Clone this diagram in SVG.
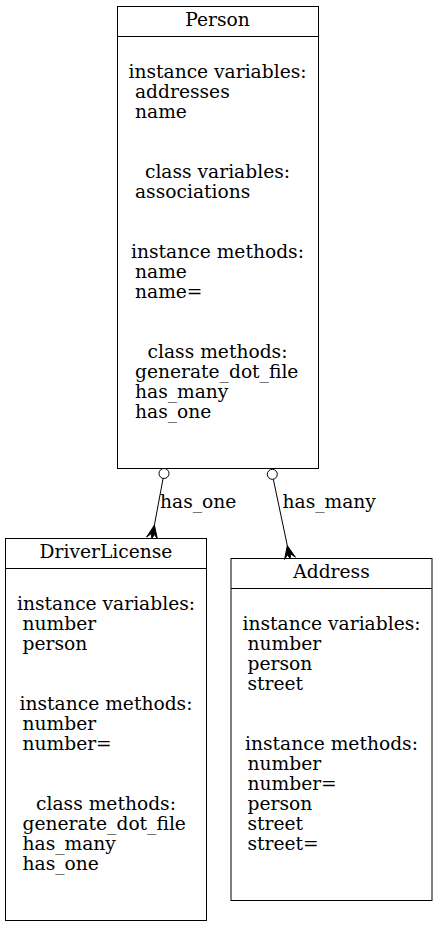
<svg xmlns="http://www.w3.org/2000/svg" width="437" height="927" viewBox="0 0 437 927">
<style>
text{font-family:"DejaVu Serif","Liberation Serif",serif;font-size:18.67px;fill:#000}
.c{text-anchor:middle}
.box{fill:none;stroke:#000;stroke-width:1}
.edge{fill:none;stroke:#000;stroke-width:1}
.odot{fill:#fff;stroke:#000;stroke-width:1}
.crow{fill:#000;stroke:#000;stroke-width:1}
</style>
<rect width="437" height="927" fill="#fff"/>
<g id="Person">
<rect class="box" x="117.5" y="6.5" width="201" height="462"/>
<line class="box" x1="117.5" y1="36.5" x2="318.5" y2="36.5"/>
<text class="c" x="217.5" y="26">Person</text>
<text class="c" x="217.5" y="78">instance variables:</text>
<text x="135" y="98">addresses</text>
<text x="135" y="118">name</text>
<text class="c" x="217.5" y="178">class variables:</text>
<text x="135" y="198">associations</text>
<text class="c" x="217.5" y="258">instance methods:</text>
<text x="135" y="278">name</text>
<text x="135" y="298">name=</text>
<text class="c" x="217.5" y="358">class methods:</text>
<text x="135" y="378">generate_dot_file</text>
<text x="135" y="398">has_many</text>
<text x="135" y="418">has_one</text>
</g>
<g id="DriverLicense">
<rect class="box" x="5.5" y="538.5" width="201" height="382"/>
<line class="box" x1="5.5" y1="568.5" x2="206.5" y2="568.5"/>
<text class="c" x="106" y="558">DriverLicense</text>
<text class="c" x="106" y="610">instance variables:</text>
<text x="22.5" y="630">number</text>
<text x="22.5" y="650">person</text>
<text class="c" x="106" y="710">instance methods:</text>
<text x="22.5" y="730">number</text>
<text x="22.5" y="750">number=</text>
<text class="c" x="106" y="810">class methods:</text>
<text x="22.5" y="830">generate_dot_file</text>
<text x="22.5" y="850">has_many</text>
<text x="22.5" y="870">has_one</text>
</g>
<g id="Address">
<rect class="box" x="231" y="558.5" width="201" height="342"/>
<line class="box" x1="231" y1="588.5" x2="432" y2="588.5"/>
<text class="c" x="331.5" y="578">Address</text>
<text class="c" x="331.5" y="630">instance variables:</text>
<text x="247.5" y="650">number</text>
<text x="247.5" y="670">person</text>
<text x="247.5" y="690">street</text>
<text class="c" x="331.5" y="750">instance methods:</text>
<text x="247.5" y="770">number</text>
<text x="247.5" y="790">number=</text>
<text x="247.5" y="810">person</text>
<text x="247.5" y="830">street</text>
<text x="247.5" y="850">street=</text>
</g>
<g id="connectors">
<g id="edge-person-driverlicense">
<line class="edge" x1="163.1" y1="478.4" x2="152" y2="538"/>
<circle class="odot" cx="164" cy="473.5" r="5"/>
<polygon class="crow" points="154.4,525.2 157.4,539 154.5,534.4 152,538 151,533.7 146.6,537"/>
<text x="160" y="508">has_one</text>
</g>
<g id="edge-person-address">
<line class="edge" x1="273.3" y1="479.2" x2="290" y2="558.3"/>
<circle class="odot" cx="272.3" cy="474.3" r="5"/>
<polygon class="crow" points="287.3,545.6 295.4,557.2 290.9,554 290,558.3 287.4,554.8 284.6,559.4"/>
<text x="282.5" y="508">has_many</text>
</g>
</g>
</svg>
